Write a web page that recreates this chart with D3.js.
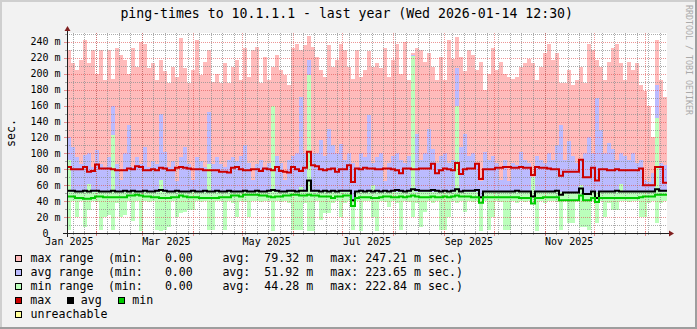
<!DOCTYPE html>
<html><head><meta charset="utf-8">
<script src="https://cdn.jsdelivr.net/npm/d3@7/dist/d3.min.js"></script>
<style>
html,body{margin:0;padding:0;background:#F2F2F2;}
svg{display:block;font-family:"DejaVu Sans Mono",monospace;}
text{white-space:pre;}
</style></head><body>
<svg id="c" width="697" height="329"></svg>
<script>
// ---------------- data ----------------
const title = "ping-times to 10.1.1.1 - last year (Wed 2026-01-14 12:30)";
const unitLabel = "sec.";
const watermark = "RRDTOOL / TOBI OETIKER";
const yTickValues = [0,20,40,60,80,100,120,140,160,180,200,220,240];
const yTickLabels = ["0","20 m","40 m","60 m","80 m","100 m","120 m","140 m","160 m","180 m","200 m","220 m","240 m"];
const xLabelText = ["Jan 2025","Mar 2025","May 2025","Jul 2025","Sep 2025","Nov 2025"];
const xLabelMonths = [[2025,0],[2025,2],[2025,4],[2025,6],[2025,8],[2025,10]];

// pink: top of max range
const maxHi = [230,213,205,217,242,213,230,200,230,192,
 230,194,232,224,217,200,232,209,240,238,
 207,213,192,217,203,188,209,196,245,207,
 188,205,242,198,215,230,190,200,
 188,213,188,209,217,192,232,196,230,234,188,221,
 192,209,224,205,198,186,232,238,230,236,
 247,234,221,205,196,236,209,217,238,230,
 209,194,230,196,205,
 229,209,213,207,232,196,217,238,200,240,
 192,226,232,230,215,226,209,192,221,192,
 242,219,246,221,203,230,224,205,215,180,
 200,232,205,215,200,196,194,196,
 209,213,219,213,192,209,226,238,217,226,
 188,188,205,186,192,209,188,238,230,217,
 209,192,215,232,238,213,192,215,205,213,
 186,178,160,121,242,192,171];
// blue: top of avg range
const avgHi = [121,108,95,87,98,100,83,104,87,83,
 95,159,87,66,100,136,83,95,87,108,
 83,90,87,150,102,83,90,65,95,108,
 87,66,95,90,83,152,87,95,
 87,83,92,95,90,97,110,88,66,87,92,83,
 88,160,97,88,66,92,97,100,171,100,
 217,100,100,117,97,131,110,100,112,92,
 100,88,83,100,95,
 148,88,95,100,65,88,97,100,92,88,
 97,223.65,125,92,100,131,105,88,97,100,
 88,92,207,108,125,97,100,88,65,102,
 92,97,88,66,92,65,88,85,
 102,92,88,66,97,92,88,100,92,110,
 136,92,115,97,88,92,100,120,100,169,
 130,100,113,105,92,100,97,92,100,88,
 92,66,64,75,186,88,85];
// green: top of min range
const minHi = [92,51,51,51,51,62,51,51,51,51,
 51,123,51,51,51,51,52,51,51,51,
 51,51,51,66,51,51,51,51,51,51,
 51,51,51,51,51,87,51,51,
 51,51,51,51,51,51,51,51,51,51,51,51,
 51,159,51,51,51,51,51,51,58,51,
 198,51,51,51,51,51,51,51,51,51,
 51,42,51,51,51,
 51,60,51,51,51,51,51,51,51,51,
 51,222.84,51,51,51,51,51,51,51,51,
 51,51,159,51,51,51,51,51,46,51,
 51,51,51,51,51,51,51,51,
 51,51,51,70,51,51,51,51,51,51,
 51,51,51,51,51,60,50,50,51,51,
 51,51,51,51,51,62,51,51,51,51,
 51,51,51,51,144,52,52];
// green: bottom of min range
const minLo = [4,40,20,40,8,29,40,39,4,20,
 22,4,38,20,22,40,15,40,2,40,
 39,40,4,3,4,8,40,20,25,27,
 29,29,40,39,40,4,4,40,
 40,4,40,38,20,40,39,20,40,40,39,40,
 40,2,40,39,40,38,4,4,4,38,
 2,2,40,16,25,25,38,40,20,38,
 40,4,40,2,40,
 40,20,2,40,39,33,40,38,4,40,
 39,20,38,8,27,40,38,40,4,4,
 20,40,38,40,27,40,39,40,2,40,
 4,20,40,39,4,4,40,38,
 40,39,40,38,2,40,38,40,40,39,
 4,40,12,12,40,8,8,4,40,12,
 40,20,38,29,29,40,40,39,40,40,
 20,20,38,40,12,38,40];
// lines: average of max / avg / min
const maxLine = [83,80,80,80,83,77,78,86,81,81,
 81,80,79,79,79,81,80,84,83,79,
 79,80,79,82,81,79,79,82,83,82,
 81,80,80,80,79,79,79,79,
 77,77,76,82,83,80,79,79,80,80,78,81,
 80,79,83,78,77,76,83,80,78,82,
 102,85,84,80,79,80,81,77,80,80,
 85,64,81,80,82,
 81,81,80,80,81,81,80,79,75,81,
 81,80,80,81,81,81,87,75,79,81,
 80,79,88,74,80,81,81,87,68,80,
 80,80,82,82,83,83,82,82,
 83,82,82,73,83,82,82,81,80,80,
 72,77,77,77,77,92,70,70,82,66,
 80,80,79,79,80,79,79,79,79,79,
 81,60,60,60,83,83,63];
const avgLine = [53,53,52,52,53,52,53,53,52,52,
 52,53,52,52,53,52,53,52,52,53,
 52,52,53,54,53,52,52,53,52,52,
 52,53,52,52,53,52,52,53,52,52,
 53,52,52,52,53,52,52,53,52,52,
 53,54,53,52,52,53,53,52,53,53,
 66,53,53,52,53,52,53,52,53,53,
 53,41,52,53,52,53,52,53,52,53,
 52,53,54,53,52,53,55,54,53,53,
 53,54,53,52,53,52,53,55,52,53,
 53,53,54,45,52,52,52,52,52,52,
 52,52,53,52,52,52,46,52,52,52,
 52,52,53,48,51,51,51,51,56,49,
 49,52,44,52,52,52,52,53,52,52,
 52,52,52,52,52,52,52,55,53,53];
const minLine = [46,46,44,44,43,43,44,46,46,45,
 45,45,45,45,45,47,47,48,47,46,
 46,45,45,44,44,44,45,45,47,46,
 45,45,45,44,44,44,44,44,45,45,
 45,47,47,46,48,48,48,48,47,47,
 46,45,46,46,47,47,48,48,47,47,
 48,47,47,46,46,46,44,46,46,47,
 47,34,44,45,45,45,44,44,45,46,
 46,45,45,46,45,46,47,46,45,45,
 45,46,45,45,46,45,46,47,46,46,
 46,45,45,38,45,45,45,45,45,45,
 45,45,45,44,44,44,37,44,44,45,
 45,45,45,41,41,41,41,41,47,41,
 41,44,39,44,44,44,44,44,44,44,
 44,44,44,45,46,46,46,48,48,48];

const rangeLabels = ["max range","avg range","min range"];
const rangeMins = ["0.00","0.00","0.00"];
const rangeAvgs = ["79.32 m","51.92 m","44.28 m"];
const rangeMaxs = ["247.21 m","223.65 m","222.84 m"];
const lineLabels = ["max","avg","min"];
const unreachLabel = "unreachable";

// ---------------- styles ----------------
const C = {
  back:"#F2F2F2", canvas:"#FFFFFF", shadeA:"#CFCFCF", shadeB:"#9E9E9E",
  grid:"rgba(143,143,143,0.75)", mgrid:"rgba(222,79,79,0.6)",
  axis:"#1F1F1F", arrow:"#802020", font:"#000000",
  pink:"#FFBBBB", blue:"#BBBBFF", green:"#BBFFBB",
  red:"#CC0000", black:"#000000", gline:"#00CC00", yellow:"#FFFF99"
};

const svg = d3.select("#c");
const W=697, H=329;
const X0=67, X1=667, Y0=233, Y1=33;
const tStart = Date.UTC(2025,0,14,12,30), tEnd = Date.UTC(2026,0,14,12,30);
const x = d3.scaleUtc().domain([tStart,tEnd]).range([X0,X1]);
const y = d3.scaleLinear().domain([0,251.3]).range([Y0,Y1]);
const N = maxHi.length;
const stepMs = (tEnd-tStart)/N;
const tt = i => new Date(tStart + i*stepMs);

// background + 3D frame
svg.append("rect").attr("width",W).attr("height",H).attr("fill",C.back);
svg.append("rect").attr("x",0).attr("y",0).attr("width",W).attr("height",2).attr("fill",C.shadeA);
svg.append("rect").attr("x",0).attr("y",0).attr("width",2).attr("height",H).attr("fill",C.shadeA);
svg.append("rect").attr("x",0).attr("y",H-2).attr("width",W).attr("height",2).attr("fill",C.shadeB);
svg.append("rect").attr("x",W-2).attr("y",0).attr("width",2).attr("height",H).attr("fill",C.shadeB);

// canvas
svg.append("rect").attr("x",X0).attr("y",Y1).attr("width",X1-X0).attr("height",Y0-Y1).attr("fill",C.canvas);

// areas
const gA = svg.append("g").attr("shape-rendering","crispEdges");
function bars(lo, hi, color){
  gA.append("g").selectAll("rect").data(d3.range(N)).join("rect")
    .attr("x", i=>x(tt(i)))
    .attr("width", i=>x(tt(i+1))-x(tt(i)))
    .attr("y", i=>y(Math.max(hi[i],lo[i])))
    .attr("height", i=>Math.max(0, y(lo[i])-y(hi[i])))
    .attr("fill", color);
}
bars(minHi, maxHi, C.pink);
bars(minHi, avgHi, C.blue);
bars(minLo, minHi, C.green);

// grid
const gG = svg.append("g").attr("shape-rendering","crispEdges");
const weeks = d3.utcSaturday.range(new Date(tStart), new Date(tEnd));
const months = d3.utcMonth.range(new Date(tStart), new Date(tEnd));
weeks.forEach(d=>{
  const px = Math.round(x(d))+0.5;
  gG.append("line").attr("x1",px).attr("x2",px).attr("y1",Y1).attr("y2",Y0)
    .attr("stroke",C.grid).attr("stroke-dasharray","1,1");
  gG.append("line").attr("x1",px).attr("x2",px).attr("y1",Y0-1).attr("y2",Y0+2).attr("stroke",C.grid);
});
d3.range(10,252,10).forEach(v=>{
  if(v%20===0) return;
  const py = Math.round(y(v))+0.5;
  gG.append("line").attr("x1",X0).attr("x2",X1).attr("y1",py).attr("y2",py)
    .attr("stroke",C.grid).attr("stroke-dasharray","1,1");
  gG.append("line").attr("x1",X0-2).attr("x2",X0+1).attr("y1",py).attr("y2",py).attr("stroke",C.grid);
});
months.forEach(d=>{
  const px = Math.round(x(d))+0.5;
  gG.append("line").attr("x1",px).attr("x2",px).attr("y1",Y1).attr("y2",Y0)
    .attr("stroke",C.mgrid).attr("stroke-dasharray","1,1");
  gG.append("line").attr("x1",px).attr("x2",px).attr("y1",Y0-2).attr("y2",Y0+3).attr("stroke",C.mgrid);
});
yTickValues.forEach(v=>{
  if(v===0) return;
  const py = Math.round(y(v))+0.5;
  gG.append("line").attr("x1",X0).attr("x2",X1).attr("y1",py).attr("y2",py)
    .attr("stroke",C.mgrid).attr("stroke-dasharray","1,1");
  gG.append("line").attr("x1",X0-3).attr("x2",X0+2).attr("y1",py).attr("y2",py).attr("stroke",C.mgrid);
});

// lines
function stepLine(vals,color){
  const pts = vals.map((v,i)=>[tt(i),v]); pts.push([tt(N),vals[N-1]]);
  svg.append("path").datum(pts)
    .attr("d", d3.line().x(d=>x(d[0])).y(d=>y(d[1])).curve(d3.curveStepAfter))
    .attr("fill","none").attr("stroke",color).attr("stroke-width",2);
}
stepLine(maxLine,C.red);
stepLine(avgLine,C.black);
stepLine(minLine,C.gline);

// axes
const gX = svg.append("g").attr("shape-rendering","crispEdges");
gX.append("line").attr("x1",X0-4).attr("x2",X1+4).attr("y1",Y0+0.5).attr("y2",Y0+0.5).attr("stroke",C.axis);
gX.append("line").attr("x1",X0+0.5).attr("x2",X0+0.5).attr("y1",Y0+4).attr("y2",Y1-4).attr("stroke",C.axis);
svg.append("path").attr("d",`M${X1+2},${Y0-2.5}L${X1+7},${Y0+0.5}L${X1+2},${Y0+3.5}Z`).attr("fill",C.arrow);
svg.append("path").attr("d",`M${X0-2.5},${Y1-2}L${X0+0.5},${Y1-7}L${X0+3.5},${Y1-2}Z`).attr("fill",C.arrow);

// y labels
yTickValues.forEach((v,i)=>{
  svg.append("text").attr("x", v===0 ? 48.5 : 60.5).attr("y", y(v)+3.5)
    .attr("text-anchor","end").attr("font-size",10).attr("fill",C.font).text(yTickLabels[i]);
});
// x labels (centered mid-month)
xLabelMonths.forEach((m,i)=>{
  const d = new Date(Date.UTC(m[0],m[1],16));
  svg.append("text").attr("x", x(d)).attr("y",244.5).attr("text-anchor","middle")
    .attr("font-size",10).attr("fill",C.font).text(xLabelText[i]);
});

// title
svg.append("text").attr("x",346.7).attr("y",18.3).attr("text-anchor","middle")
  .attr("font-size",13.2).attr("fill",C.font).text(title);
// unit
svg.append("text").attr("transform","translate(14.5,133) rotate(-90)").attr("text-anchor","middle")
  .attr("font-size",11.6).attr("fill",C.font).text(unitLabel);
// watermark
svg.append("text").attr("transform","translate(685.5,60) rotate(90)").attr("text-anchor","middle")
  .attr("font-size",8.3).attr("fill","#AAAAAA").text(watermark);

// legend
const LF = 11.6;
function swatch(px, baseline, color){
  svg.append("rect").attr("x",px+0.5).attr("y",baseline-6.5).attr("width",6).attr("height",6)
    .attr("fill",color).attr("stroke","#000").attr("stroke-width",1).attr("shape-rendering","crispEdges");
}
function ltext(px, baseline, s){
  svg.append("text").attr("x",px).attr("y",baseline).attr("font-size",LF).attr("fill",C.font).text(s);
}
const rangeColors = [C.pink, C.blue, C.green];
rangeLabels.forEach((lab,i)=>{
  const b = 262.4 + 14*i;
  swatch(14.5, b, rangeColors[i]);
  ltext(30.6, b, lab);
  ltext(107.9, b, "(min:");
  ltext(164.9, b, rangeMins[i]);
  ltext(222.4, b, "avg:  " + rangeAvgs[i]);
  ltext(330.3, b, "max: " + rangeMaxs[i] + " sec.)");
});
const lineColors = [C.red, C.black, C.gline];
const lineSwX = [14.5, 66.5, 117.5], lineTxX = [30.3, 80.8, 132.3];
lineLabels.forEach((lab,i)=>{
  swatch(lineSwX[i], 304.4, lineColors[i]);
  ltext(lineTxX[i], 304.4, lab);
});
swatch(14.5, 318.4, C.yellow);
ltext(30.6, 318.4, unreachLabel);
</script>
</body></html>
